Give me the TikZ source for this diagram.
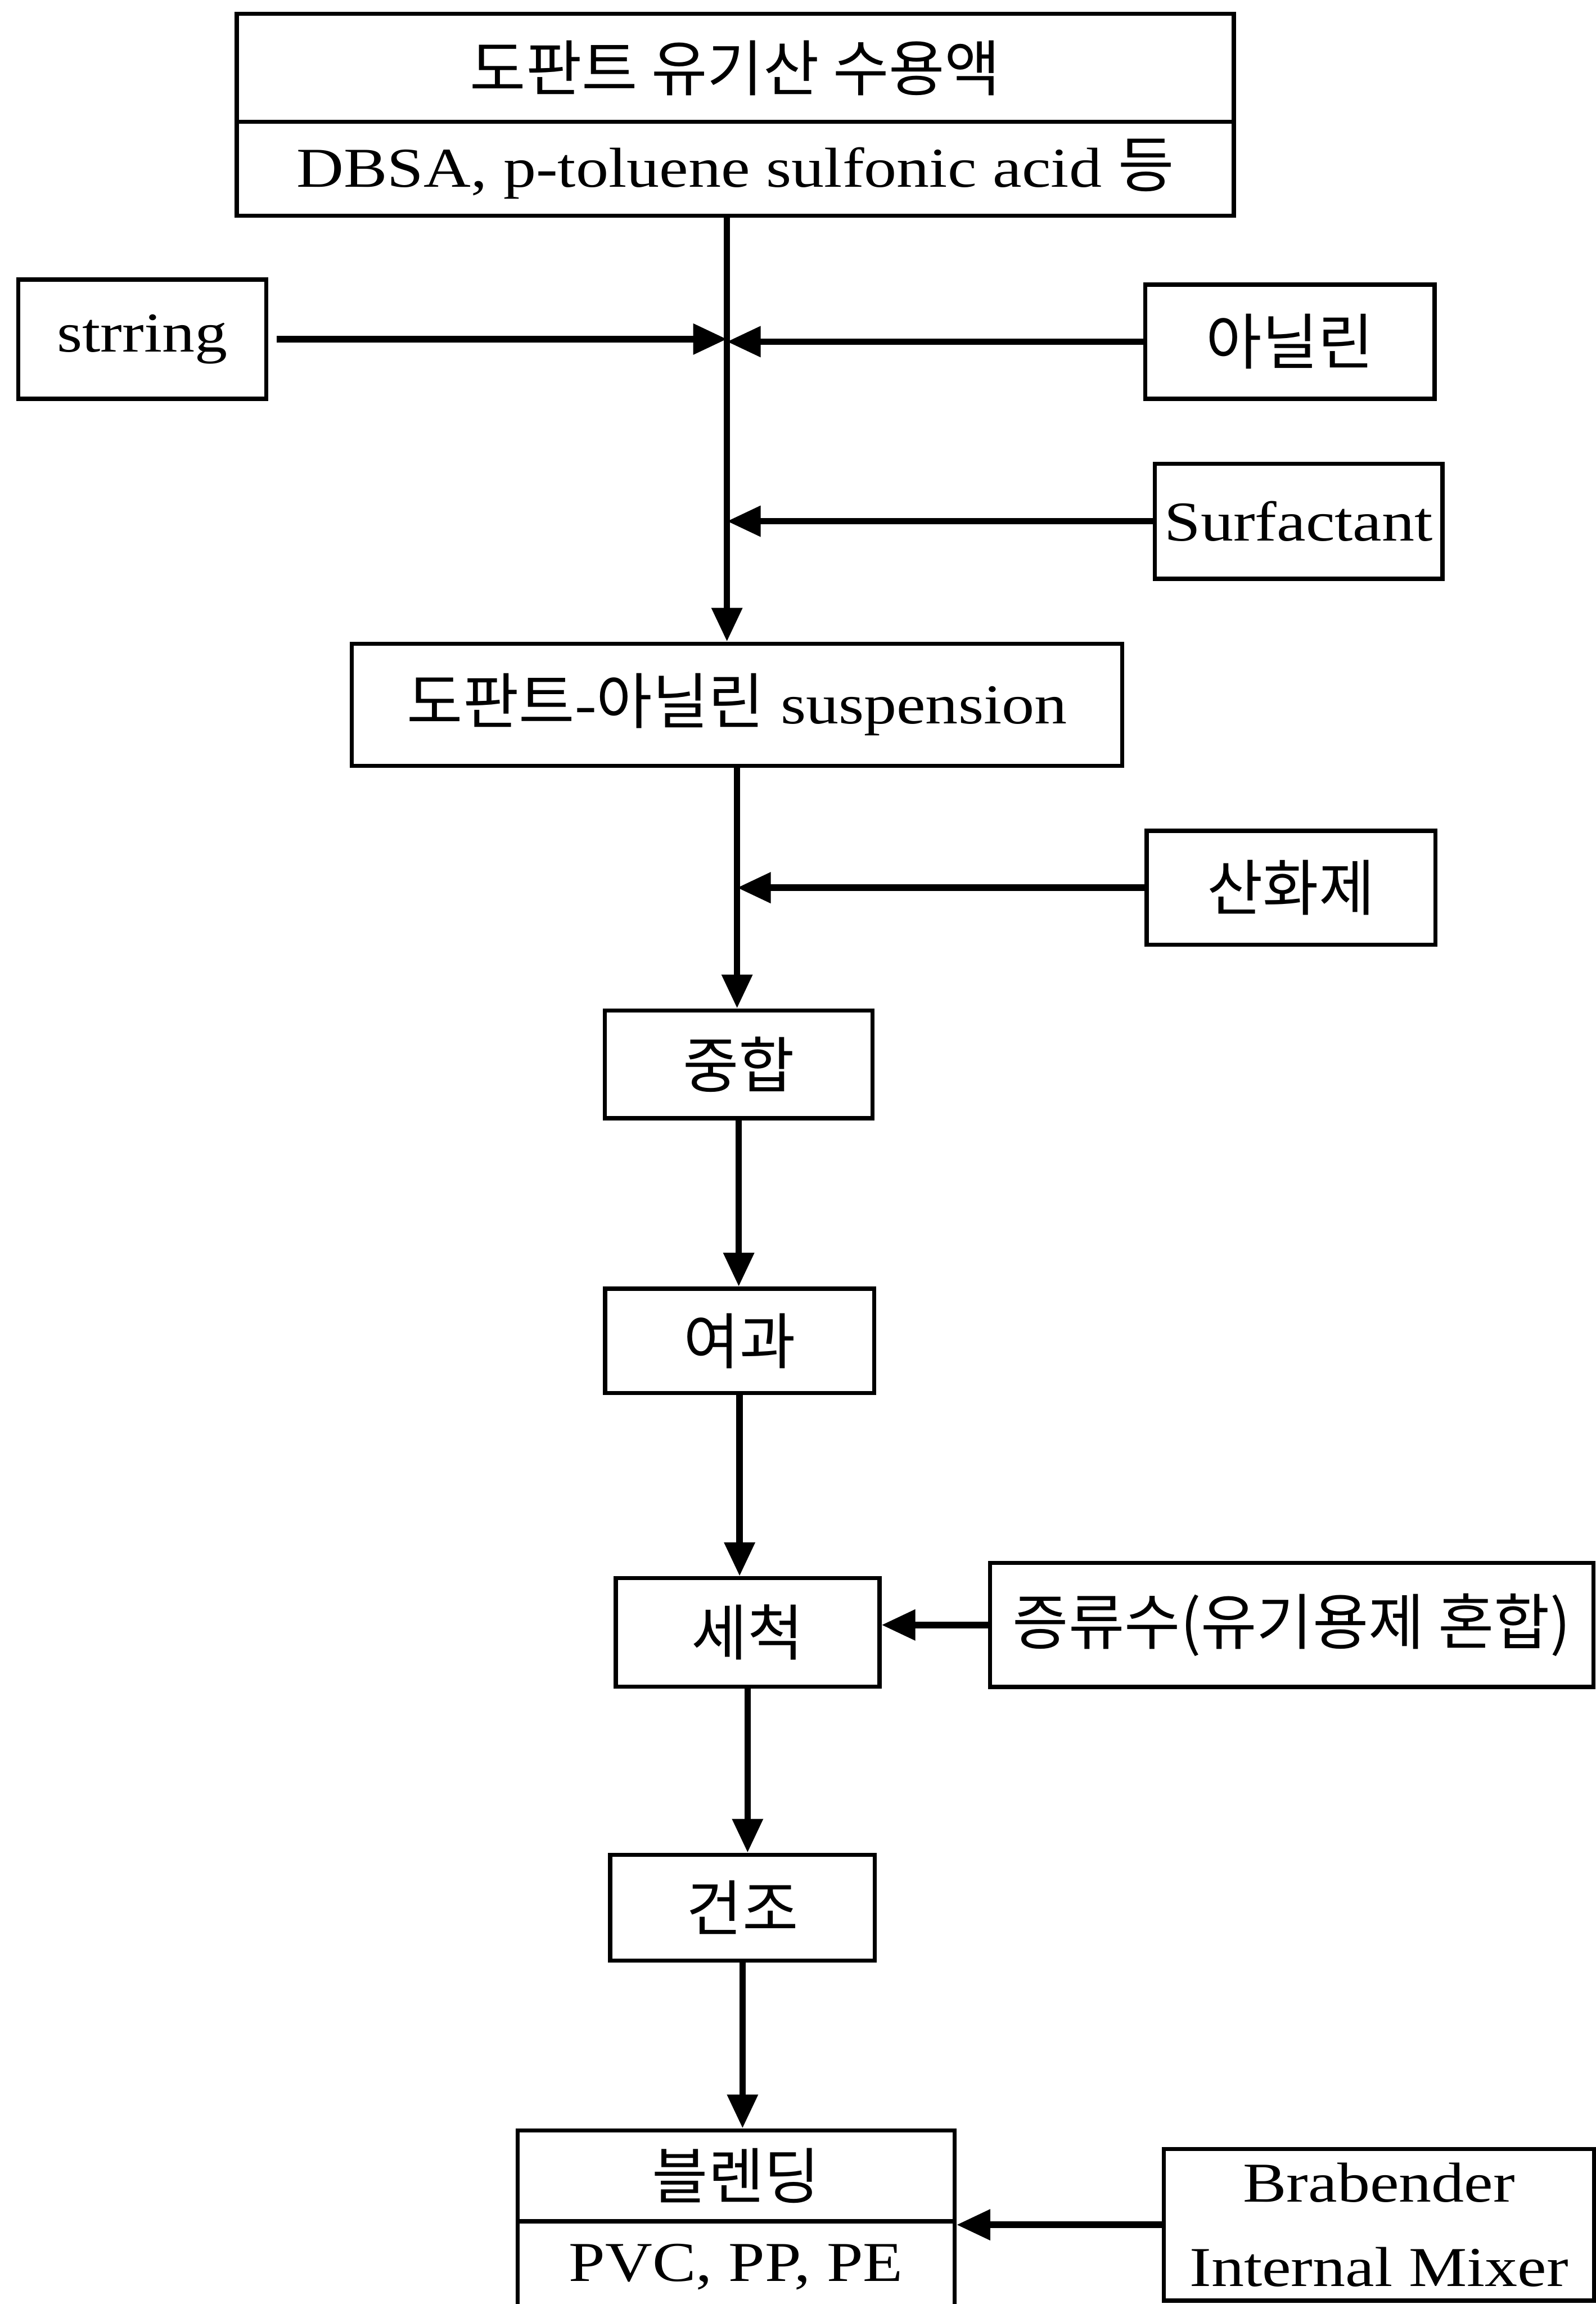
\documentclass[tikz,border=0pt]{standalone}
\usepackage{fontspec}
\setmainfont{Liberation Serif}[FakeStretch=1.16]
\newfontfamily\kr{Noto Sans CJK KR}[Scale=1.08]
\usetikzlibrary{arrows.meta}

\begin{document}
\begin{tikzpicture}[
  box/.style={draw, line width=2.8pt, inner sep=0pt, align=center,
    font=\fontsize{38pt}{57pt}\selectfont},
  flow/.style={line width=4.4pt, -{Triangle[length=8mm, width=7mm]}}]
  \useasboundingbox (0,0) rectangle (37.86,-54.66);

  \node[box, minimum width=23.66cm, minimum height=2.56cm] (topA) at (17.45,-1.61) {\kr 도판트 유기산 수용액};
  \node[box, minimum width=23.66cm, minimum height=2.23cm] (topB) at (17.45,-4.005) {DBSA, p-toluene sulfonic acid {\kr 등}};
  \coordinate (mix) at ([xshift=-2mm]topB.south);

  \node[box, minimum width=5.89cm, minimum height=2.83cm] (stir) at (3.375,-8.045) {strring};
  \node[box, minimum width=6.86cm, minimum height=2.71cm] (anil) at (30.61,-8.105) {\kr 아닐린};
  \node[box, minimum width=6.83cm, minimum height=2.73cm] (surf) at (30.815,-12.365) {Surfactant};

  \node[box, minimum width=18.28cm, minimum height=2.90cm] (susp) at (17.49,-16.72) {{\kr 도판트}-{\kr 아닐린} suspension};
  \node[box, minimum width=6.85cm, minimum height=2.70cm] (oxid) at (30.635,-21.06) {\kr 산화제};

  \node[box, minimum width=6.35cm, minimum height=2.56cm] (poly) at (17.53,-25.25) {\kr 중합};
  \node[box, minimum width=6.38cm, minimum height=2.48cm] (filt) at (17.55,-31.81) {\kr 여과};
  \node[box, minimum width=6.26cm, minimum height=2.57cm] (wash) at (17.74,-38.725) {\kr 세척};
  \node[box, minimum width=14.32cm, minimum height=2.94cm] (dist) at (30.65,-38.55) {\kr 증류수(유기용제 혼합)};
  \node[box, minimum width=6.28cm, minimum height=2.51cm] (dry) at (17.62,-45.255) {\kr 건조};

  \node[box, minimum width=10.37cm, minimum height=2.16cm] (blendA) at (17.465,-51.62) {\kr 블렌딩};
  \node[box, minimum width=10.37cm, minimum height=2.16cm] (blendB) at (17.465,-53.78) {PVC, PP, PE};
  \node[box, minimum width=10.21cm, minimum height=3.60cm] (brab) at (32.725,-52.78) {Brabender\\Internal Mixer};

  \draw[flow] (mix) -- (mix |- susp.north);
  \draw[flow] ([xshift=2mm]stir.east) -- (stir.east -| mix);
  \draw[flow] (anil.west) -- (anil.west -| mix);
  \draw[flow] (surf.west) -- (surf.west -| mix);

  \draw[flow] (susp.south) -- (susp.south |- poly.north);
  \draw[flow] (oxid.west) -- (oxid.west -| susp.south);
  \draw[flow] (poly.south) -- (poly.south |- filt.north);
  \draw[flow] (filt.south) -- (filt.south |- wash.north);
  \draw[flow] (dist.west) -- (dist.west -| wash.east);
  \draw[flow] (wash.south) -- (wash.south |- dry.north);
  \draw[flow] (dry.south) -- (dry.south |- blendA.north);
  \draw[flow] (brab.west) -- (brab.west -| blendA.east);
\end{tikzpicture}
\end{document}
